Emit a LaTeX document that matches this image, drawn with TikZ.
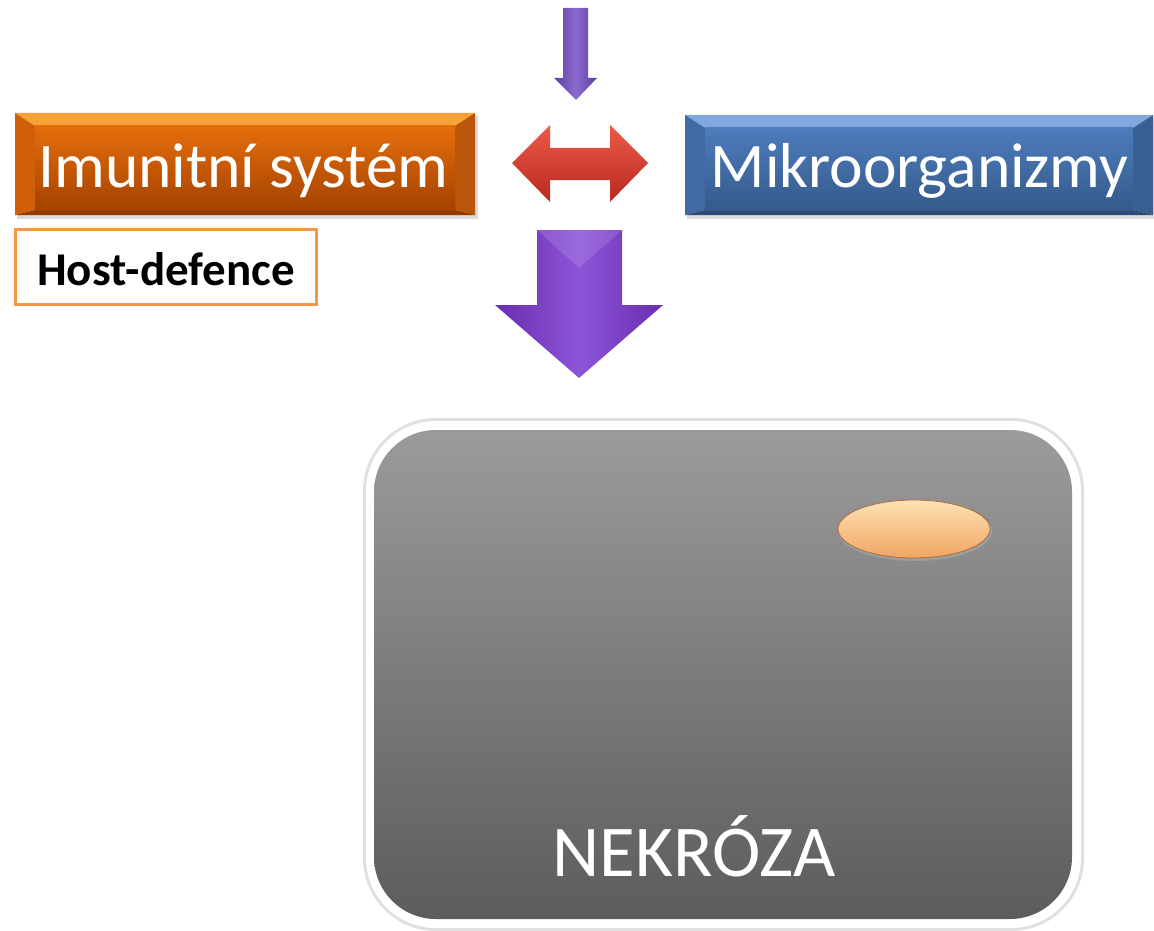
\documentclass[tikz,border=0pt]{standalone}
\usepackage{fontspec}
\setmainfont{Carlito}
\definecolor{orTop}{HTML}{F6A23A}
\definecolor{orFaceT}{HTML}{E56E0C}
\definecolor{orFaceB}{HTML}{A44200}
\definecolor{orSide}{HTML}{CF5F0A}
\definecolor{orBot}{HTML}{933A00}
\definecolor{hostBorder}{HTML}{F79646}
\definecolor{blTop}{HTML}{80A8DE}
\definecolor{blFaceT}{HTML}{4D7CBC}
\definecolor{blFaceB}{HTML}{355A8B}
\definecolor{blSide}{HTML}{3F6AA3}
\definecolor{blBot}{HTML}{2D4B76}
\definecolor{purA}{HTML}{6A2DAE}
\definecolor{purB}{HTML}{8C55D8}
\definecolor{purS}{HTML}{5E3F9E}
\definecolor{purSL}{HTML}{8A6AD0}
\definecolor{redT}{HTML}{EC5A48}
\definecolor{redB}{HTML}{B8281E}
\definecolor{grT}{HTML}{9B9B9B}
\definecolor{grB}{HTML}{5C5C5C}
\definecolor{peachT}{HTML}{FDE2B4}
\definecolor{peachB}{HTML}{F2A564}
\definecolor{peachD}{HTML}{A87040}
\tikzset{
  bigtext/.style={text=white, font=\fontsize{63.5}{70}\selectfont, anchor=base, inner sep=0pt},
  hosttext/.style={text=black, font=\bfseries\fontsize{47}{54}\selectfont, anchor=base, inner sep=0pt},
  nektext/.style={text=white, font=\fontsize{73}{80}\selectfont, anchor=base, inner sep=0pt},
  softshadow/.style={fill=black!14},
  plate/.style={inner sep=0pt, outer sep=0pt, draw=none},
}
\begin{document}
\begin{tikzpicture}[x=1pt,y=-1pt]
\useasboundingbox (0,0) rectangle (1154,931);

% ---------- orange box ----------
\fill[softshadow] (17,116) rectangle (478,219);
\fill[orTop] (15,113) -- (475,113) -- (455,126) -- (35,126) -- cycle;
\fill[orSide] (15,113) -- (35,126) -- (35,210) -- (15,215) -- cycle;
\fill[orSide!90!black] (475,113) -- (455,126) -- (455,210) -- (475,215) -- cycle;
\fill[orBot] (15,215) -- (35,210) -- (455,210) -- (475,215) -- cycle;
\shade[top color=orFaceT, bottom color=orFaceB] (35,126) rectangle (455,210);
\node[bigtext] (imun) at (243.5,187) {Imunitní systém};

% ---------- host-defence ----------
\draw[hostBorder, line width=3pt, fill=white] (15.5,229.5) rectangle (316.5,304.5);
\node[hosttext] (host) at (166,285) {Host-defence};

% ---------- blue box ----------
\fill[softshadow] (687,118) rectangle (1154,219);
\fill[blTop] (685,115) -- (1153,115) -- (1133,128) -- (705,128) -- cycle;
\fill[blSide] (685,115) -- (705,128) -- (705,210) -- (685,215) -- cycle;
\fill[blSide!90!black] (1153,115) -- (1133,128) -- (1133,210) -- (1153,215) -- cycle;
\fill[blBot] (685,215) -- (705,210) -- (1133,210) -- (1153,215) -- cycle;
\shade[top color=blFaceT, bottom color=blFaceB] (705,128) rectangle (1133,210);
\node[bigtext] (mikro) at (919.5,187) {Mikroorganizmy};

% ---------- small purple arrow ----------
\shade[left color=purS, right color=purS, middle color=purSL]
  (563,8) -- (588,8) -- (588,78) -- (597,78) -- (576,100) -- (554,78) -- (563,78) -- cycle;

% ---------- red double arrow ----------
\shade[top color=redT, bottom color=redB]
  (512,163) -- (550,125) -- (550,148) -- (610,148) -- (610,125) -- (648,163)
  -- (610,202) -- (610,180) -- (550,180) -- (550,202) -- cycle;

% ---------- big purple arrow ----------
\shade[left color=purA, right color=purA, middle color=purB]
  (537,230) -- (622,230) -- (622,305) -- (663,305) -- (579,378) -- (495,305) -- (537,305) -- cycle;
\fill[white, opacity=0.12] (537,230) -- (622,230) -- (579,268) -- cycle;

% ---------- grey box ----------
\node[plate, fill=black!12, rounded corners=73pt, minimum width=721pt, minimum height=513pt] (shadowbox) at (723.5,674.5) {};
\node[plate, fill=white, rounded corners=70pt, minimum width=715pt, minimum height=507pt] (whitebox) at (723.5,674.5) {};
\node[plate, top color=grT, bottom color=grB, rounded corners=62pt, minimum width=698pt, minimum height=489pt] (greybox) at (723,674.5) {};

% ---------- ellipse ----------
\fill[black!25, opacity=0.35] (915,531) ellipse (77pt and 30pt);
\shade[top color=peachT, bottom color=peachB, draw=peachD, line width=0.8pt] (914,529) ellipse (76pt and 29pt);

\node[nektext] (nekroza) at (694,876) {NEKRÓZA};
\end{tikzpicture}
\end{document}
